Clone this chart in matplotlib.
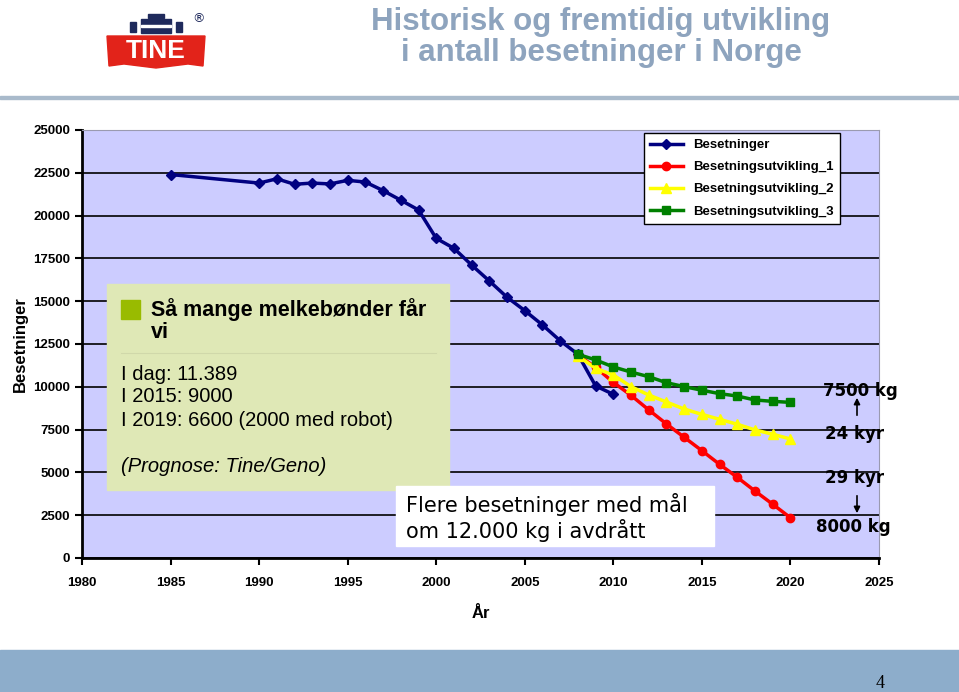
import matplotlib
matplotlib.use("Agg")
import matplotlib.pyplot as plt
from matplotlib.patches import Rectangle, Polygon

# data
years_hist = [1985, 1990, 1991, 1992, 1993, 1994, 1995, 1996, 1997, 1998, 1999,
              2000, 2001, 2002, 2003, 2004, 2005, 2006, 2007, 2008, 2009, 2010]
besetninger = [22400, 21900, 22150, 21830, 21900, 21850, 22060, 21960, 21460, 20900, 20330,
               18670, 18090, 17110, 16180, 15230, 14450, 13610, 12690, 11900, 10050, 9560]

years_prog = list(range(2008, 2021))
utv_1 = [11850, 11140, 10260, 9500, 8650, 7830, 7050, 6270, 5470, 4710, 3910, 3140, 2350]
utv_2 = [11800, 11080, 10690, 10010, 9520, 9110, 8700, 8390, 8100, 7810, 7480, 7230, 6950]
utv_3 = [11900, 11570, 11160, 10860, 10590, 10240, 10010, 9800, 9600, 9460, 9230, 9150, 9090]

W, H = 959, 692
sans = 'Liberation Sans'

fig = plt.figure(figsize=(W / 100, H / 100), dpi=100)
fig.patch.set_facecolor('white')

# page decoration in pixel coordinates
bg = fig.add_axes([0, 0, 1, 1], zorder=0)
bg.set_xlim(0, W)
bg.set_ylim(H, 0)
bg.axis('off')
bg.add_patch(Rectangle((0, 96), W, 3, color='#A9BACB'))
bg.add_patch(Rectangle((0, 650), W, 42, color='#8DADCB'))
bg.text(880, 688, '4', fontsize=13, family='Liberation Serif', ha='center', va='baseline')
bg.text(601, 22, 'Historisk og fremtidig utvikling', fontsize=22.5, fontweight='bold',
        color='#8EA4BE', ha='center', va='center', family=sans)
bg.text(601, 53, 'i antall besetninger i Norge', fontsize=22.5, fontweight='bold',
        color='#8EA4BE', ha='center', va='center', family=sans)

# TINE logo
bg.add_patch(Polygon([(107, 36), (205, 36), (203, 66), (188, 64), (156, 68), (124, 64), (109, 66)],
                     closed=True, color='#E2231A'))
bg.text(156, 51, 'TINE', fontsize=19, fontweight='bold', color='white', ha='center', va='center',
        family=sans)
bg.add_patch(Rectangle((141, 19), 30, 14, color='#1F2A5C'))
bg.add_patch(Rectangle((148, 14), 16, 4, color='#1F2A5C'))
bg.add_patch(Rectangle((130, 22), 6, 10, color='#1F2A5C'))
bg.add_patch(Rectangle((176, 22), 6, 10, color='#1F2A5C'))
bg.add_patch(Rectangle((141, 25), 30, 2, color='white'))
bg.text(198, 19, '®', fontsize=9, color='#1F2A5C', ha='center', va='center')

# main chart
ax = fig.add_axes([82 / W, 1 - 558 / H, (879 - 82) / W, (558 - 130) / H], zorder=1)
ax.set_facecolor('#CCCCFF')
ax.set_xlim(1980, 2025)
ax.set_ylim(0, 25000)
ax.set_xticks(range(1980, 2026, 5))
ax.set_yticks(range(0, 25001, 2500))
ax.grid(axis='y', color='black', linewidth=1.2)
ax.set_axisbelow(True)
for s in ['top', 'right']:
    ax.spines[s].set_color('#9A9AB0')
ax.spines['left'].set_linewidth(2)
ax.spines['bottom'].set_linewidth(2)
ax.tick_params(axis='both', direction='out', length=5, width=1.5, labelsize=9.5)
for lab in ax.get_xticklabels() + ax.get_yticklabels():
    lab.set_fontweight('bold')
    lab.set_family(sans)
ax.tick_params(axis='x', pad=9)

ax.plot(years_hist, besetninger, color='#000080', lw=2.5, marker='D', ms=5, label='Besetninger')
ax.plot(years_prog, utv_1, color='#FF0000', lw=2.5, marker='o', ms=6, label='Besetningsutvikling_1')
ax.plot(years_prog, utv_2, color='#FFFF00', lw=2.5, marker='^', ms=7, label='Besetningsutvikling_2')
ax.plot(years_prog, utv_3, color='#008000', lw=2.5, marker='s', ms=6, label='Besetningsutvikling_3')

leg = ax.legend(loc='upper right', bbox_to_anchor=(0.951, 0.993), borderaxespad=0,
                frameon=True, fancybox=False, edgecolor='black', framealpha=1,
                handlelength=2.5, borderpad=0.45, labelspacing=0.75,
                prop={'family': sans, 'weight': 'bold', 'size': 9.5})
leg.get_frame().set_linewidth(1)

ax.set_xlabel('År', fontsize=12, fontweight='bold', family=sans, labelpad=12)
ax.set_ylabel('Besetninger', fontsize=12, fontweight='bold', family=sans)
ax.yaxis.set_label_coords(-0.068, 0.5)

# overlay annotations in pixel coordinates
fg = fig.add_axes([0, 0, 1, 1], zorder=3)
fg.set_xlim(0, W)
fg.set_ylim(H, 0)
fg.axis('off')
fg.patch.set_alpha(0)

fg.add_patch(Rectangle((107, 284), 342, 206, color='#DFE8B6'))
fg.add_patch(Rectangle((121, 300), 19, 19, color='#99BB00'))
fg.text(151, 310, 'Så mange melkebønder får', fontsize=15.5, fontweight='bold', va='center',
        family=sans)
fg.text(151, 333, 'vi', fontsize=15.5, fontweight='bold', va='center', family=sans)
fg.plot([121, 436], [353, 353], color='#D0D8AA', lw=0.8)
for i, t in enumerate(['I dag: 11.389', 'I 2015: 9000', 'I 2019: 6600 (2000 med robot)']):
    fg.text(121, 374 + i * 23, t, fontsize=14.5, va='center', family=sans)
fg.text(121, 467, '(Prognose: Tine/Geno)', fontsize=14.5, va='center', style='italic', family=sans)

fg.add_patch(Rectangle((396, 486), 318, 60, color='white'))
fg.text(406, 505, 'Flere besetninger med mål', fontsize=15, va='center', family='DejaVu Sans')
fg.text(406, 530, 'om 12.000 kg i avdrått', fontsize=15, va='center', family='DejaVu Sans')

for x, y, t in [(860, 391, '7500 kg'), (855, 434, '24 kyr'), (855, 478, '29 kyr'), (853, 527, '8000 kg')]:
    fg.text(x, y, t, fontsize=12, fontweight='bold', ha='center', va='center', family='DejaVu Sans')
fg.annotate('', xy=(857, 395), xytext=(857, 418),
            arrowprops=dict(arrowstyle='-|>', color='black', lw=1.2, mutation_scale=9))
fg.annotate('', xy=(857, 516), xytext=(857, 493),
            arrowprops=dict(arrowstyle='-|>', color='black', lw=1.2, mutation_scale=9))

fig.savefig('out.png', dpi=100)
